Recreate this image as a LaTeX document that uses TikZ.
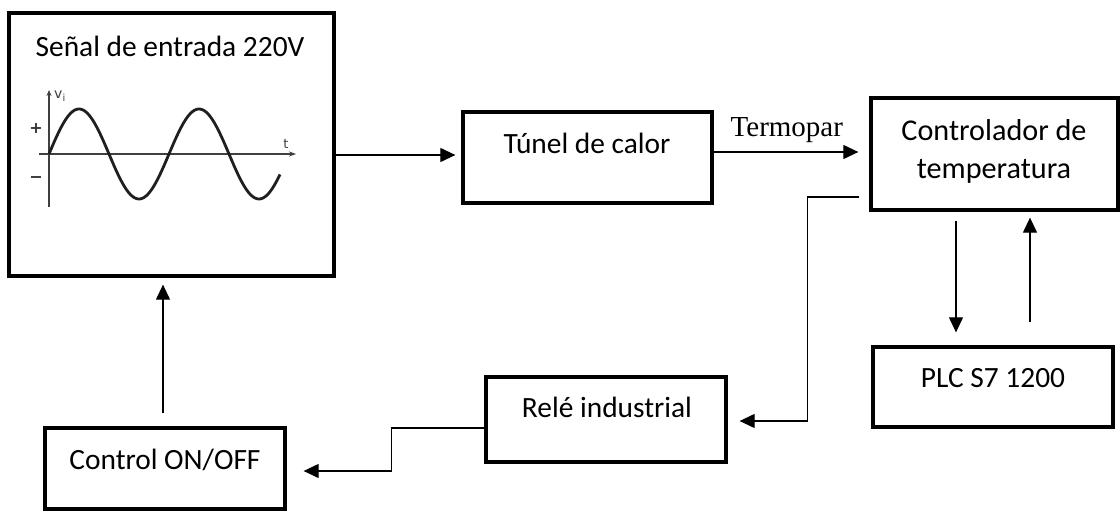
\documentclass[tikz,border=0pt]{standalone}
\usepackage{fontspec}
\setmainfont{Carlito}
\newfontfamily\timesf{Liberation Serif}
\newfontfamily\dejavu{DejaVu Sans}
\usetikzlibrary{arrows.meta}
\begin{document}
\begin{tikzpicture}[x=1pt,y=-1pt,
  blk/.style={draw, line width=3.3pt, rectangle, inner sep=0pt},
  txt/.style={font=\fontsize{29.4}{38}\selectfont, inner sep=0pt, align=center},
  arr/.style={line width=1.2pt, -{Triangle[length=15pt,width=14pt]}},
  axis/.style={line width=1.3pt, draw=black!75},
  lbl/.style={inner sep=0pt, font=\fontsize{12}{14}\selectfont}]
\useasboundingbox (0,0) rectangle (1120,511);

% boxes
\node[blk, minimum width=325pt, minimum height=263pt] (big) at (171.5,144.5) {};
\node[txt] (bigt) at (170,46) {Señal de entrada 220V};
\node[blk, minimum width=249pt, minimum height=91pt] (tunel) at (587.5,157.5) {};
\node[txt] (tunelt) at (587,143) {Túnel de calor};
\node[blk, minimum width=247pt, minimum height=112pt] (ctrl) at (994.5,154) {};
\node[txt, font=\fontsize{30.2}{38}\selectfont] (ctrlt) at (994,151.5) {Controlador de\\temperatura};
\node[blk, minimum width=240pt, minimum height=80pt] (plc) at (993,387) {};
\node[txt] (plct) at (993,378) {PLC S7 1200};
\node[blk, minimum width=240pt, minimum height=85pt] (rele) at (606,419.5) {};
\node[txt] (relet) at (607,407) {Relé industrial};
\node[blk, minimum width=240pt, minimum height=81pt] (onoff) at (165,468.5) {};
\node[txt] (onofft) at (165,460) {Control ON/OFF};

% sine wave graph
\draw[axis, -{Stealth[length=6pt,width=5pt]}] (49,207) -- (49,90);
\draw[axis, -{Stealth[length=7pt,width=5pt]}] (39,154) -- (296,154);
\draw[line width=2.8pt, draw=black!88, line join=round]
  plot[domain=49:280, samples=120, smooth] (\x, {154-45*sin(3*(\x-49))});
\node[lbl, font=\dejavu\fontsize{14}{16}\selectfont, text=black!75] (vi) at (60,96) {v\textsubscript{i}};
\node[lbl, font=\dejavu\fontsize{13}{15}\selectfont, text=black!75] (tt) at (286,144) {t};
\node[lbl, font=\dejavu\fontsize{16}{18}\selectfont\bfseries, text=black!80] (plus) at (36,128) {+};
\node[lbl, font=\dejavu\fontsize{16}{18}\selectfont\bfseries, text=black!80] (minus) at (36,180) {−};

% connectors
\draw[arr, shorten >=6pt] ([yshift=2.5pt]tunel.west -| big.east) -- ([yshift=2.5pt]tunel.west);
\draw[arr, shorten >=11pt] ([yshift=5.5pt]tunel.east) -- ([yshift=5.5pt]tunel.east -| ctrl.west)
  node[pos=0.47, above=9pt, inner sep=0pt, font=\timesf\fontsize{29}{34}\selectfont] (termo) {Termopar};
\draw[arr, shorten <=10pt, shorten >=12pt] ([yshift=-43pt]ctrl.west) -- ++(-62,0) |- ([yshift=-1.5pt]rele.east);
\draw[arr, shorten <=9pt, shorten >=13pt] ([xshift=-38.5pt]ctrl.south) -- ([xshift=-38.5pt]ctrl.south |- plc.north);
\draw[arr, shorten <=23pt, shorten >=6pt] ([xshift=37pt]plc.north) -- ([xshift=37pt]plc.north |- ctrl.south);
\draw[arr, shorten >=17pt] ([yshift=-8.5pt]rele.west) -- ++(-93,0) |- ([yshift=-2.5pt]onoff.east);
\draw[arr, shorten <=13pt, shorten >=7pt] ([xshift=-2pt]onoff.north) -- ([xshift=-2pt]onoff.north |- big.south);
\end{tikzpicture}
\end{document}
